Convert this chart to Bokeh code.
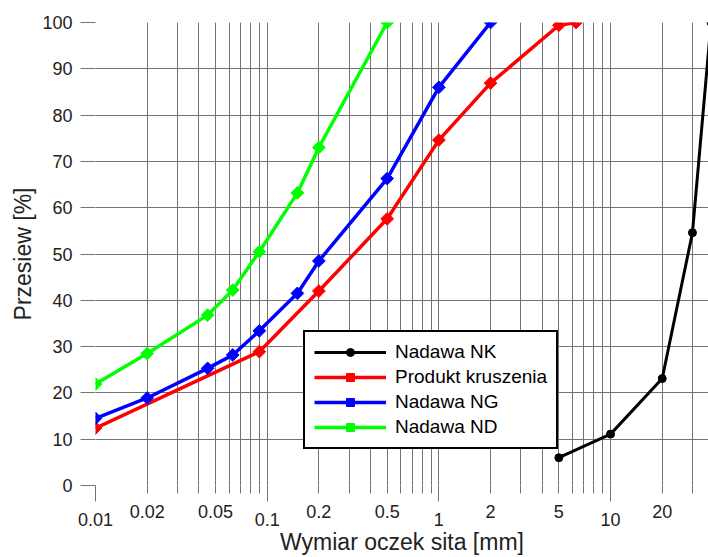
import math
from bokeh.plotting import figure
from bokeh.models import FixedTicker, Legend, LegendItem, Range1d, LogAxis
from bokeh.embed import file_html
from bokeh.resources import INLINE

# ---- data ----
nk_x = [5, 10, 20, 30, 38.5]
nk_y = [6.0, 11.1, 23.1, 54.6, 100.0]

pk_x = [0.01, 0.09, 0.2, 0.5, 1, 2, 5, 6.3]
pk_y = [12.4, 28.9, 42.0, 57.6, 74.6, 86.9, 99.4, 100.0]

ng_x = [0.01, 0.02, 0.045, 0.063, 0.09, 0.15, 0.2, 0.5, 1, 2]
ng_y = [14.5, 18.9, 25.3, 28.2, 33.4, 41.5, 48.5, 66.3, 86.0, 100.0]

nd_x = [0.01, 0.02, 0.045, 0.063, 0.09, 0.15, 0.2, 0.5]
nd_y = [21.9, 28.5, 36.8, 42.2, 50.5, 63.2, 73.0, 100.0]

series_names = ["Nadawa NK", "Produkt kruszenia", "Nadawa NG", "Nadawa ND"]

decade_ticks = [0.01, 0.1, 1, 10]
decade_labels = ["0.01", "0.1", "1", "10"]
mid_ticks = [0.02, 0.05, 0.2, 0.5, 2, 5, 20]
mid_labels = ["0.02", "0.05", "0.2", "0.5", "2", "5", "20"]
y_ticks = [0, 10, 20, 30, 40, 50, 60, 70, 80, 90, 100]

x_title = "Wymiar oczek sita [mm]"
y_title = "Przesiew [%]"

# ---- layout ----
W, H = 708, 557
X0, X1 = 0.01, 37.2

FONT = "Liberation Sans"
GRID = "#737373"
TXT = "#222222"

p = figure(width=W, height=H, x_axis_type="log",
           x_range=Range1d(X0, X1), y_range=Range1d(0, 100),
           output_backend="svg", toolbar_location=None,
           min_border_left=95, min_border_top=22,
           min_border_bottom=72, min_border_right=0)
p.outline_line_color = None
p.background_fill_color = "white"

# grid
all_x = []
for d in [0.01, 0.1, 1, 10]:
    for m in range(1, 10):
        v = round(d * m, 6)
        if X0 <= v <= X1:
            all_x.append(v)
minor_x = [v for v in all_x if v not in decade_ticks]
p.xgrid.ticker = FixedTicker(ticks=all_x)
p.ygrid.ticker = FixedTicker(ticks=y_ticks)
for g in (p.xgrid, p.ygrid):
    g.grid_line_color = GRID
    g.grid_line_width = 1

# x axis A: ticks + decade labels
xa = p.xaxis[0]
xa.ticker = FixedTicker(ticks=decade_ticks, minor_ticks=minor_x)
xa.major_label_overrides = {t: l for t, l in zip(decade_ticks, decade_labels)}
xa.axis_line_color = None
xa.major_tick_in = 0
xa.minor_tick_in = 0
xa.major_tick_out = 16
xa.minor_tick_out = 8
xa.major_tick_line_color = GRID
xa.minor_tick_line_color = GRID
xa.major_label_standoff = 11
xa.major_label_text_font = FONT
xa.major_label_text_font_size = "18px"
xa.major_label_text_color = TXT

# x axis B: staggered (raised) labels + axis title
xb = LogAxis(ticker=FixedTicker(ticks=mid_ticks, minor_ticks=[]))
xb.major_label_overrides = {t: l for t, l in zip(mid_ticks, mid_labels)}
xb.axis_line_color = None
xb.major_tick_line_color = None
xb.minor_tick_line_color = None
xb.major_tick_in = 0
xb.major_tick_out = 0
xb.minor_tick_in = 0
xb.minor_tick_out = 0
xb.major_label_standoff = -24
xb.major_label_text_font = FONT
xb.major_label_text_font_size = "18px"
xb.major_label_text_color = TXT
xb.axis_label = x_title
xb.axis_label_text_font = FONT
xb.axis_label_text_font_size = "23px"
xb.axis_label_text_font_style = "normal"
xb.axis_label_text_color = TXT
xb.axis_label_standoff = 8
p.add_layout(xb, "below")

# y axis
ya = p.yaxis[0]
ya.ticker = FixedTicker(ticks=y_ticks)
ya.axis_line_color = None
ya.major_tick_in = 0
ya.major_tick_out = 15
ya.minor_tick_out = 0
ya.major_tick_line_color = GRID
ya.major_label_standoff = 8
ya.major_label_text_font = FONT
ya.major_label_text_font_size = "18px"
ya.major_label_text_color = TXT
ya.axis_label = y_title
ya.axis_label_text_font = FONT
ya.axis_label_text_font_size = "23px"
ya.axis_label_text_font_style = "normal"
ya.axis_label_text_color = TXT
ya.axis_label_standoff = 3

# series
items = []
specs = [
    (nk_x, nk_y, "black", 3, "circle", 8, 0.0),
    (pk_x, pk_y, "#ff0000", 3.5, "square", 9, math.pi / 4),
    (ng_x, ng_y, "#0000ff", 3.5, "square", 9, math.pi / 4),
    (nd_x, nd_y, "#00ff00", 3.5, "square", 9, math.pi / 4),
]
for (xs, ys, col, lw, mk, ms, ang), name in zip(specs, series_names):
    ln = p.line(xs, ys, line_color=col, line_width=lw)
    sc = p.scatter(xs, ys, marker=mk, size=ms, angle=ang,
                   fill_color=col, line_color=col)
    items.append(LegendItem(label=name, renderers=[ln, sc]))

legend = Legend(items=items, location=(208, 36), margin=0, padding=9,
                spacing=3, glyph_width=72, glyph_height=20, label_height=20,
                label_standoff=9, label_text_font=FONT,
                label_text_font_size="19px", label_text_color="black",
                border_line_color="black", border_line_width=2,
                border_line_alpha=1.0,
                background_fill_color="white", background_fill_alpha=1.0)
p.add_layout(legend)

open("out.html", "w").write(file_html(p, INLINE))
